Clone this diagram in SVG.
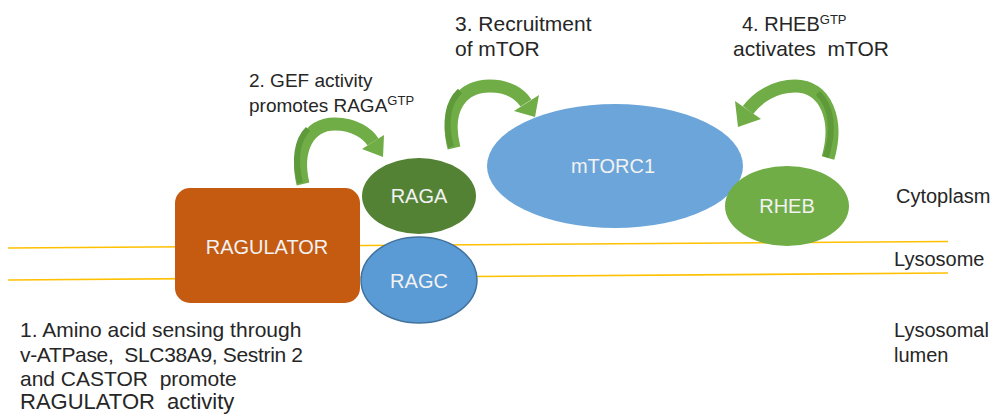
<svg xmlns="http://www.w3.org/2000/svg" width="995" height="414" viewBox="0 0 995 414">
<style>
  .lbl { font-family: "Liberation Sans", Arial, sans-serif; font-size: 20px; fill: #262626; white-space: pre; }
  .big { font-size: 21px; }
  .sup { font-size: 13px; }
  .ntxt { font-family: "Liberation Sans", Arial, sans-serif; font-size: 20px; fill: #F2F2F2; text-anchor: middle; }
  .mem { stroke: #FFC000; stroke-width: 1.6; fill: none; }
  .shaft { fill: none; stroke: #70AD47; stroke-width: 13; }
  .shade { fill: none; stroke: #5E9A3A; stroke-width: 6; }
  .head { fill: #70AD47; }
</style>
<rect width="995" height="414" fill="#FFFFFF"/>
<g id="membrane">
  <line class="mem" x1="8" y1="248" x2="948" y2="241.5"/>
  <line class="mem" x1="8" y1="280" x2="948" y2="273"/>
</g>
<g id="ragulator">
  <rect x="175" y="188" width="185" height="115" rx="15" fill="#C55A11"/>
  <text class="ntxt" x="267" y="254">RAGULATOR</text>
</g>
<g id="ragc">
  <ellipse cx="419" cy="280" rx="58" ry="43" fill="#5B9BD5" stroke="#41719C" stroke-width="1.5"/>
  <text class="ntxt" x="419" y="288">RAGC</text>
</g>
<g id="raga">
  <ellipse cx="419" cy="196" rx="57" ry="38" fill="#548235"/>
  <text class="ntxt" x="419" y="203">RAGA</text>
</g>
<g id="mtorc1">
  <ellipse cx="615" cy="166" rx="128" ry="62" fill="#5B9BD5" fill-opacity="0.9"/>
  <text class="ntxt" x="613" y="173">mTORC1</text>
</g>
<g id="rheb">
  <ellipse cx="787" cy="206" rx="62" ry="40" fill="#70AD47"/>
  <text class="ntxt" x="787" y="213">RHEB</text>
</g>
<g id="connectors">
  <g id="arrow-gef">
    <path class="shaft" d="M303 184 C295 150 308 124 335 124 C355 124 368 134 373 142"/>
    <path class="shade" d="M300 183 C294 160 297 140 308 129"/>
    <polygon class="head" points="384,135 362,149 383,157"/>
  </g>
  <g id="arrow-recruit">
    <path class="shaft" d="M454 148 C444 108 462 86 490 86 C508 86 520 94 526 103"/>
    <path class="shade" d="M451 147 C444 122 448 102 460 91"/>
    <polygon class="head" points="539,95 514,111 535,117"/>
  </g>
  <g id="arrow-rheb">
    <path class="shaft" d="M828 158 C839 120 826 86 795 86 C775 86 758 97 748 110"/>
    <path class="shade" d="M826 157 C835 128 831 106 818 93"/>
    <polygon class="head" points="761,119 735,101 738,127"/>
  </g>
</g>
<g id="labels">
  <text class="lbl big" x="20" y="337">1. Amino acid sensing through</text>
  <text class="lbl big" x="20" y="362" textLength="283" lengthAdjust="spacing">v-ATPase,  SLC38A9, Sestrin 2</text>
  <text class="lbl big" x="20" y="386">and CASTOR  promote</text>
  <text class="lbl" x="20" y="408.5" style="font-size:22px">RAGULATOR  activity</text>
  <text class="lbl" x="249" y="87" style="font-size:19px">2. GEF activity</text>
  <text class="lbl" x="249" y="112" style="font-size:19px">promotes RAGA<tspan class="sup" dy="-7.5">GTP</tspan></text>
  <text class="lbl big" x="455" y="31">3. Recruitment</text>
  <text class="lbl big" x="455" y="56">of mTOR</text>
  <text class="lbl" x="742" y="31">4. RHEB<tspan class="sup" dy="-7.5">GTP</tspan></text>
  <text class="lbl big" x="733" y="56">activates  mTOR</text>
  <text class="lbl" x="896" y="203">Cytoplasm</text>
  <text class="lbl" x="894" y="266">Lysosome</text>
  <text class="lbl" x="894" y="337">Lysosomal</text>
  <text class="lbl" x="894" y="362">lumen</text>
</g>
</svg>
